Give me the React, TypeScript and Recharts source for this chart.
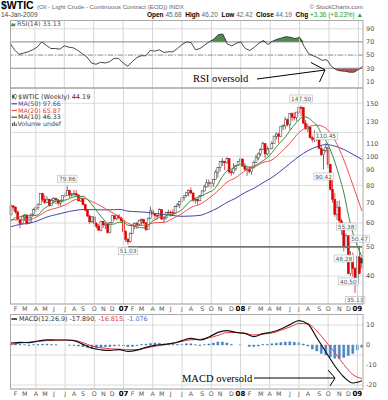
import React from "react";
import {
  ComposedChart,
  Bar,
  Line,
  Area,
  XAxis,
  YAxis,
  CartesianGrid,
  ReferenceLine,
  ReferenceDot,
} from "recharts";

// weekly candles, week 0 = 16-Jan-2006 ... week 156 = 12-Jan-2009
const opens = [
  63.9, 68.4, 67.8, 65.3, 61.8, 59.9, 62.9, 63.7, 60.0, 62.8,
  64.3, 66.6, 67.4, 69.3, 75.2, 71.9, 70.2, 72.0, 68.5, 71.4,
  72.3, 71.6, 69.9, 70.9, 73.9, 74.1, 77.0, 74.4, 74.5, 75.1,
  74.4, 71.1, 72.5, 69.2, 66.2, 63.3, 60.6, 62.9, 59.8, 58.6,
  56.8, 60.8, 59.1, 59.6, 55.8, 60.2, 63.4, 62.0, 63.4, 62.4,
  61.1, 56.3, 53.0, 52.0, 55.4, 59.0, 59.9, 59.4, 61.1, 61.6,
  60.1, 57.1, 62.3, 65.9, 64.3, 63.6, 63.4, 66.5, 61.9, 62.4,
  64.9, 65.2, 65.1, 64.8, 68.0, 69.0, 70.7, 72.8, 73.9, 75.6,
  77.0, 75.5, 71.5, 72.0, 71.1, 74.0, 76.7, 79.1, 81.6, 81.7,
  81.2, 83.7, 88.6, 91.9, 95.9, 96.3, 95.1, 98.2, 88.7, 88.3,
  91.3, 93.3, 96.0, 97.9, 92.7, 90.6, 90.7, 89.0, 91.8, 95.5,
  98.8, 101.8, 105.2, 110.2, 101.8, 105.6, 106.2, 110.1, 116.7, 118.5,
  116.3, 126.0, 126.3, 132.2, 127.4, 138.5, 134.9, 134.6, 140.2, 145.3,
  145.1, 128.9, 123.3, 125.1, 115.2, 113.8, 114.6, 115.5, 106.2, 101.2,
  104.6, 106.9, 93.9, 77.7, 71.9, 64.2, 67.8, 61.0, 57.0, 49.9,
  54.4, 40.8, 46.3, 42.4, 37.7, 46.3, 45.68,
];
const highs = [
  69.2, 68.9, 68.1, 66.0, 62.0, 63.4, 64.2, 64.0, 63.0, 64.4,
  67.1, 68.4, 69.6, 75.4, 75.6, 74.5, 73.7, 72.3, 72.3, 73.1,
  73.0, 72.2, 71.5, 74.2, 75.8, 79.86, 77.4, 75.6, 77.1, 77.3,
  74.7, 73.0, 72.8, 69.5, 66.4, 63.9, 63.2, 63.2, 60.4, 59.5,
  61.0, 61.1, 60.2, 59.9, 60.5, 64.0, 63.8, 63.9, 64.2, 62.9,
  61.3, 57.0, 53.5, 55.8, 59.2, 60.3, 60.6, 61.6, 62.2, 62.0,
  60.4, 62.6, 68.1, 66.7, 64.9, 64.0, 67.1, 66.6, 62.9, 65.1,
  66.5, 66.0, 66.6, 68.6, 69.9, 70.9, 73.0, 74.2, 75.9, 77.6,
  78.8, 75.8, 72.9, 72.4, 74.2, 77.1, 80.4, 83.9, 83.8, 82.0,
  84.1, 90.1, 92.2, 96.2, 98.6, 96.4, 99.3, 98.5, 90.4, 94.9,
  93.8, 96.5, 100.0, 98.4, 95.0, 92.2, 93.0, 92.3, 96.7, 101.3,
  103.0, 106.5, 111.8, 110.6, 108.0, 106.8, 112.2, 117.0, 119.9, 119.9,
  126.2, 127.8, 135.1, 133.7, 139.1, 139.9, 139.9, 140.4, 145.9, 147.5,
  145.5, 131.9, 127.8, 125.5, 117.1, 121.9, 120.4, 116.2, 108.9, 105.6,
  110.45, 107.0, 94.4, 83.5, 75.4, 71.0, 71.4, 62.0, 58.6, 55.38,
  54.7, 48.4, 47.9, 42.9, 46.8, 50.47, 46.2,
];
const lows = [
  63.6, 66.0, 64.4, 61.5, 57.6, 59.5, 61.0, 59.1, 59.7, 60.5,
  63.5, 65.3, 66.3, 69.0, 70.6, 69.4, 69.8, 68.0, 68.2, 69.7,
  69.3, 68.5, 68.1, 70.4, 73.5, 73.9, 72.7, 73.3, 74.0, 73.6,
  70.7, 70.5, 68.7, 65.7, 62.8, 59.6, 60.0, 58.8, 57.5, 56.6,
  56.3, 57.8, 57.3, 55.3, 55.4, 59.9, 61.3, 61.2, 61.6, 60.5,
  55.1, 51.9, 51.03, 51.6, 55.1, 57.3, 57.3, 58.6, 59.0, 59.5,
  56.5, 56.9, 62.0, 63.5, 61.9, 61.6, 63.1, 61.3, 60.2, 61.7,
  64.4, 63.0, 63.9, 64.5, 67.8, 67.2, 70.4, 71.2, 73.3, 73.6,
  74.8, 70.6, 69.6, 69.0, 70.9, 73.8, 76.4, 78.7, 79.0, 78.2,
  79.0, 83.4, 84.9, 88.9, 93.0, 90.0, 94.6, 87.4, 86.2, 87.2,
  89.4, 92.9, 95.6, 92.5, 89.4, 86.1, 87.5, 86.8, 91.0, 95.1,
  97.1, 100.2, 104.8, 98.7, 100.5, 99.6, 105.6, 109.8, 113.6, 110.6,
  115.9, 122.0, 123.0, 125.6, 122.3, 131.1, 131.6, 131.0, 138.1, 136.0,
  128.2, 122.8, 120.5, 114.6, 111.3, 111.4, 112.1, 105.5, 100.2, 90.42,
  103.0, 91.5, 77.1, 70.0, 63.0, 61.3, 59.9, 54.7, 48.28, 49.4,
  40.5, 40.1, 39.9, 35.13, 37.3, 40.6, 42.42,
];
const closes = [
  68.35, 67.76, 65.37, 61.84, 59.88, 62.91, 63.67, 60.0, 62.81, 64.26,
  66.63, 67.39, 69.32, 75.17, 71.88, 70.19, 72.04, 68.53, 71.37, 72.33,
  71.63, 69.89, 70.87, 73.93, 74.09, 77.03, 74.43, 74.54, 75.1, 74.35,
  71.14, 72.51, 69.2, 66.25, 63.33, 60.55, 62.91, 59.76, 58.57, 56.82,
  60.75, 59.14, 59.58, 55.81, 60.16, 63.43, 62.03, 63.43, 62.41, 61.05,
  56.31, 52.99, 51.99, 55.42, 59.02, 59.89, 59.39, 61.14, 61.64, 60.05,
  57.11, 62.28, 65.87, 64.28, 63.63, 63.38, 66.46, 61.93, 62.37, 64.94,
  65.2, 65.08, 64.76, 68.0, 68.96, 70.68, 72.81, 73.93, 75.57, 77.02,
  75.48, 71.47, 71.98, 71.09, 74.04, 76.7, 79.1, 81.62, 81.66, 81.22,
  83.69, 88.6, 91.86, 95.93, 96.32, 95.1, 98.18, 88.71, 88.28, 91.27,
  93.31, 96.0, 97.91, 92.69, 90.57, 90.71, 88.96, 91.77, 95.5, 98.81,
  101.84, 105.15, 110.21, 101.84, 105.62, 106.23, 110.14, 116.69, 118.52, 116.32,
  125.96, 126.29, 132.19, 127.35, 138.54, 134.86, 134.62, 140.21, 145.29, 145.08,
  128.88, 123.26, 125.1, 115.2, 113.77, 114.59, 115.46, 106.23, 101.18, 104.55,
  106.89, 93.88, 77.7, 71.85, 64.15, 67.81, 61.04, 57.04, 49.93, 54.43,
  40.81, 46.28, 42.36, 37.71, 46.34, 40.83, 44.19,
];

// indicator lines: every 2nd week / every 4th week
const ma10 = [
  60.76, 62.59, 62.89, 63.9, 63.65, 63.51, 63.87, 66.4, 67.97, 69.68,
  70.99, 71.39, 71.49, 72.41, 73.38, 73.54, 73.63, 71.79, 68.99, 65.86,
  63.07, 60.77, 59.41, 59.61, 60.36, 60.34, 58.96, 58.81, 58.19, 57.88,
  57.86, 60.18, 61.53, 62.58, 62.74, 64.03, 64.2, 65.11, 66.47, 68.99,
  71.23, 72.59, 73.41, 74.64, 76.02, 77.26, 80.96, 85.67, 89.42, 90.79,
  92.76, 94.1, 93.2, 91.84, 92.87, 94.48, 96.62, 99.04, 102.71, 107.51,
  111.67, 115.98, 121.82, 127.13, 132.16, 135.33, 134.32, 130.63, 126.68, 118.88,
  112.62, 104.95, 95.65, 85.53, 75.48, 63.86, 55.57, 50.38, 46.33,
];
const ma20 = [
  61.57, 61.44, 61.5, 63.23, 65.93, 67.25, 68.95, 71.53, 72.51, 70.7,
  68.3, 65.6, 63.11, 59.86, 58.9, 59.1, 60.17, 60.31, 62.19, 64.53,
  67.63, 69.26, 72.5, 76.77, 82.03, 85.01, 89.44, 91.83, 95.36, 97.28,
  103.07, 110.43, 119.83, 125.15, 126.91, 123.98, 113.14, 97.18, 80.26, 65.87,
];
const ma50 = [
  58.33, 59.4, 59.93, 61.12, 62.89, 64.0, 65.08, 66.0, 66.53, 66.49,
  66.37, 66.39, 66.59, 65.72, 65.43, 65.16, 64.6, 64.04, 63.55, 63.17,
  63.31, 63.65, 65.2, 67.38, 70.26, 72.63, 75.78, 78.28, 81.69, 85.02,
  89.48, 94.63, 99.87, 104.4, 107.56, 109.37, 108.07, 105.38, 101.49, 97.66,
];
const rsi = [
  68, 58, 51, 53, 55, 58, 62, 70, 65, 60,
  60, 59, 64, 62, 61, 57, 52, 47, 38, 36,
  39, 38, 40, 45, 45, 38, 33, 40, 46, 49,
  49, 57, 56, 58, 54, 55, 55, 60, 66, 70,
  69, 58, 60, 65, 70, 74, 81, 82, 67, 64,
  68, 70, 60, 57, 62, 68, 72, 66, 71, 74,
  76, 78, 77, 75, 77, 63, 52, 49, 46, 42,
  43, 33, 28, 26, 25.5, 24, 24, 28, 33.13,
];
const macd = [
  1.0, 1.3, 1.2, 2.0, 2.6, 2.5, 2.5, 2.2, 0.3, -1.6,
  -2.4, -2.7, -2.3, -3.2, -2.6, -1.2, -0.2, 0.3, 0.9, 2.2,
  3.3, 2.5, 4.0, 6.3, 7.2, 6.3, 5.8, 4.2, 5.7, 6.5,
  8.0, 10.2, 12.2, 10.5, 3.5, -3.5, -10.5, -16.0, -19.0, -17.89,
];
const signal = [
  0.3, 1.0, 1.4, 1.8, 2.2, 2.4, 2.5, 2.3, 1.2, -0.5,
  -1.4, -1.9, -2.1, -2.3, -2.3, -1.5, -0.6, 0.1, 0.8, 1.8,
  2.6, 2.8, 3.6, 4.8, 6.2, 6.3, 5.8, 5.0, 5.5, 6.0,
  7.4, 9.0, 10.8, 10.5, 7.0, 1.6, -3.8, -9.8, -14.8, -16.815,
];
const hist = [
  0.7, 0.5, 0.3, 0.1, -0.2, 0.1, 0.2, 0.4, 0.4, 0.2,
  0.1, 0.0, 0.0, -0.1, -0.2, -0.5, -0.9, -1.3, -1.7, -1.6,
  -1.1, -0.9, -0.8, -0.5, -0.2, -0.5, -0.9, -0.7, -0.3, 0.2,
  0.4, 0.8, 1.0, 0.9, 0.5, 0.3, 0.2, 0.3, 0.4, 0.6,
  0.6, 0.1, -0.2, 0.1, 0.5, 1.0, 1.5, 1.5, 1.0, 0.2,
  0.0, 0.1, 0.0, -0.7, -0.8, -0.5, 0.2, 0.3, 0.6, 0.9,
  1.2, 1.5, 1.6, 1.4, 1.2, 0.5, -0.5, -2.0, -3.0, -4.2,
  -5.0, -6.0, -6.6, -6.8, -6.2, -5.2, -4.2, -2.5, -1.08,
];

// axis ticks
const monthTicks = [
  2, 6, 11, 15, 19, 24, 28, 32, 37, 41, 45, 50,
  54, 58, 63, 67, 71, 76, 80, 85, 89, 93, 98, 102,
  106, 111, 115, 119, 124, 128, 132, 137, 141, 146, 150, 154,
];
const monthLabels = [
  "F", "M", "A", "M", "J", "J", "A", "S", "O", "N", "D", "07",
  "F", "M", "A", "M", "J", "J", "A", "S", "O", "N", "D", "08",
  "F", "M", "A", "M", "J", "J", "A", "S", "O", "N", "D", "09",
];
const quarterTicks = [11, 24, 37, 50, 63, 76, 89, 102, 115, 128, 141, 154];
const priceTicks = [40, 50, 60, 70, 80, 90, 100, 110, 120, 130, 140, 150];
const rsiTicks = [10, 30, 50, 70, 90];
const macdTicks = [-20, -15, -10, -5, 0, 5, 10];

// high / low tags
const tagIdx = [25, 52, 129, 140, 139, 149, 148, 155, 150, 153];
const tagVals = [79.86, 51.03, 147.5, 110.45, 90.42, 55.38, 48.28, 50.47, 40.5, 35.13];
const tagBelow = [false, true, false, false, true, false, true, false, true, true];

const rows = closes.map((c, i) => ({
  i,
  o: opens[i],
  h: highs[i],
  l: lows[i],
  c,
  prev: i > 0 ? closes[i - 1] : opens[0],
  range: [lows[i], highs[i]],
  ma10: i % 2 === 0 ? ma10[i / 2] : null,
  ma20: i % 4 === 0 ? ma20[i / 4] : null,
  ma50: i % 4 === 0 ? ma50[i / 4] : null,
  rsi: i % 2 === 0 ? rsi[i / 2] : null,
  hist: i % 2 === 0 ? hist[i / 2] : null,
  macd: i % 4 === 0 ? macd[i / 4] : null,
  signal: i % 4 === 0 ? signal[i / 4] : null,
}));

const FONT = "'DejaVu Sans', sans-serif";
const axisTick = { fontSize: 6.5, fill: "#555", fontFamily: FONT };

const Candle = (props: any) => {
  const { x, y, width, height, payload } = props;
  if (!payload || x == null || y == null) return null;
  const { o, h, l, c, prev } = payload;
  const top = Math.min(y, y + height);
  const span = Math.abs(height);
  const k = Math.log(h) - Math.log(l);
  const yOf = (v: number) => top + (k > 0 ? ((Math.log(h) - Math.log(v)) / k) * span : 0);
  const cx = x + width / 2;
  const color = c < prev ? "#e00000" : "#333";
  const filled = c < o;
  const y1 = Math.min(yOf(o), yOf(c));
  const bh = Math.max(0.8, Math.abs(yOf(o) - yOf(c)));
  return (
    <g>
      <line x1={cx} x2={cx} y1={top} y2={top + span} stroke={color} strokeWidth={0.7} />
      <rect x={cx - 1} y={y1} width={2} height={bh} fill={filled ? color : "#fff"} stroke={color} strokeWidth={0.5} />
    </g>
  );
};

const MonthTick = (props: any) => {
  const { x, y, payload } = props;
  const k = monthTicks.indexOf(payload.value);
  const label = monthLabels[k] ?? "";
  const isYear = /\d/.test(label);
  return (
    <text
      x={x}
      y={y + 6.5}
      textAnchor="middle"
      fontSize={isYear ? 7 : 6.3}
      fontWeight={isYear ? "bold" : "normal"}
      fill={isYear ? "#000" : "#555"}
      fontFamily={FONT}
    >
      {label}
    </text>
  );
};

const PriceTag = ({ cx, cy, value, below }: any) => {
  if (cx == null || cy == null) return null;
  const text = value.toFixed(2);
  const w = text.length * 3.3 + 3;
  const by = below ? cy + 3.5 : cy - 10.5;
  return (
    <g>
      <rect x={cx - w / 2} y={by} width={w} height={7} fill="#fff" stroke="#b5b5b5" strokeWidth={0.6} />
      <text x={cx} y={by + 5.6} textAnchor="middle" fontSize={5.8} fill="#555" fontFamily={FONT}>
        {text}
      </text>
    </g>
  );
};

const quarterLines = () =>
  quarterTicks.map((q) => <ReferenceLine key={"q" + q} x={q} stroke="#d6d6d6" strokeWidth={1} />);

const margin = { top: 0, right: 0, bottom: 0, left: 10 };

export default function App() {
  return (
    <div style={{ position: "absolute", left: 0, top: 0, width: 388, height: 400, background: "#fff", fontFamily: FONT }}>
      {/* RSI panel */}
      <div style={{ position: "absolute", left: 0, top: 20 }}>
        <ComposedChart width={388} height={68} data={rows} margin={margin}>
          <CartesianGrid vertical={false} stroke="#dcdcdc" />
          {quarterLines()}
          <XAxis dataKey="i" hide />
          <YAxis
            orientation="right"
            width={25}
            domain={[0, 103.3]}
            allowDataOverflow
            ticks={rsiTicks}
            tick={axisTick}
            tickLine={false}
            axisLine={false}
            tickSize={0}
            tickMargin={3}
          />
          <ReferenceLine y={70} stroke="#8a8a8a" strokeWidth={1} />
          <ReferenceLine y={30} stroke="#8a8a8a" strokeWidth={1} />
          <ReferenceLine y={50} stroke="#9c9c9c" strokeWidth={1} strokeDasharray="5 2 1 2" />
          <Area
            dataKey={(d: any) => (d.rsi == null ? null : [70, Math.max(70, d.rsi)])}
            type="linear"
            connectNulls
            fill="#4f8a4f"
            fillOpacity={1}
            stroke="none"
            isAnimationActive={false}
          />
          <Area
            dataKey={(d: any) => (d.rsi == null ? null : [Math.min(30, d.rsi), 30])}
            type="linear"
            connectNulls
            fill="#cc4a4a"
            fillOpacity={1}
            stroke="none"
            isAnimationActive={false}
          />
          <Line dataKey="rsi" type="linear" connectNulls stroke="#333" strokeWidth={0.9} dot={false} isAnimationActive={false} />
        </ComposedChart>
      </div>

      {/* price panel */}
      <div style={{ position: "absolute", left: 0, top: 88 }}>
        <ComposedChart width={388} height={226} data={rows} margin={margin} barCategoryGap={0}>
          <CartesianGrid vertical={false} stroke="#dcdcdc" />
          {quarterLines()}
          <XAxis
            dataKey="i"
            ticks={monthTicks}
            interval={0}
            tick={<MonthTick />}
            tickLine={false}
            axisLine={false}
            tickSize={0}
            tickMargin={0}
            height={10}
          />
          <YAxis
            orientation="right"
            width={25}
            scale="log"
            domain={[32.3, 168.6]}
            allowDataOverflow
            ticks={priceTicks}
            tick={axisTick}
            tickLine={false}
            axisLine={false}
            tickSize={0}
            tickMargin={3}
          />
          <ReferenceLine
            segment={[
              { x: 52, y: 50 },
              { x: 156, y: 50 },
            ]}
            stroke="#777"
            strokeWidth={1.8}
          />
          <Line dataKey="ma50" type="monotone" connectNulls stroke="#4646a8" strokeWidth={1} dot={false} isAnimationActive={false} />
          <Line dataKey="ma20" type="monotone" connectNulls stroke="#f05050" strokeWidth={1} dot={false} isAnimationActive={false} />
          <Line dataKey="ma10" type="monotone" connectNulls stroke="#3a8a3a" strokeWidth={1} dot={false} isAnimationActive={false} />
          <Bar dataKey="range" shape={<Candle />} isAnimationActive={false} />
          {tagIdx.map((t, k) => (
            <ReferenceDot
              key={"tag" + k}
              x={t}
              y={tagVals[k]}
              r={0}
              ifOverflow="visible"
              shape={(p: any) => <PriceTag cx={p.cx} cy={p.cy} value={tagVals[k]} below={tagBelow[k]} />}
            />
          ))}
        </ComposedChart>
      </div>

      {/* MACD panel */}
      <div style={{ position: "absolute", left: 0, top: 314 }}>
        <ComposedChart width={388} height={86} data={rows} margin={margin}>
          <CartesianGrid vertical={false} stroke="#dcdcdc" />
          {quarterLines()}
          <XAxis
            dataKey="i"
            ticks={monthTicks}
            interval={0}
            tick={<MonthTick />}
            tickLine={false}
            axisLine={false}
            tickSize={0}
            tickMargin={0}
            height={11}
          />
          <YAxis
            orientation="right"
            width={25}
            domain={[-22, 15.5]}
            allowDataOverflow
            ticks={macdTicks}
            tick={axisTick}
            tickLine={false}
            axisLine={false}
            tickSize={0}
            tickMargin={3}
          />
          <Bar dataKey="hist" barSize={4} fill="#4a8fcf" stroke="#2a5f98" strokeWidth={0.4} isAnimationActive={false} />
          <Line dataKey="signal" type="monotone" connectNulls stroke="#ee3a3a" strokeWidth={1} dot={false} isAnimationActive={false} />
          <Line dataKey="macd" type="monotone" connectNulls stroke="#111" strokeWidth={1.2} dot={false} isAnimationActive={false} />
        </ComposedChart>
      </div>

      {/* header, legends, annotations */}
      <svg width={388} height={400} style={{ position: "absolute", left: 0, top: 0, pointerEvents: "none" }}>
        <rect x={10.5} y={20.5} width={352.5} height={67.5} fill="none" stroke="#aaa" />
        <rect x={10.5} y={88} width={352.5} height={216} fill="none" stroke="#aaa" />
        <rect x={10.5} y={314.5} width={352.5} height={74.5} fill="none" stroke="#aaa" />

        <text x={1} y={9} fontFamily="'Liberation Sans', Arial" fontWeight="bold" fontSize={10.5} fill="#000">
          $WTIC
        </text>
        <text x={37} y={8.5} fontFamily="'Liberation Sans', Arial" fontSize={6.2} fill="#666">
          (Oil - Light Crude - Continuous Contract (EOD)) INDX
        </text>
        <text x={363} y={8.5} textAnchor="end" fontFamily="'Liberation Sans', Arial" fontSize={6.2} fill="#666">
          © StockCharts.com
        </text>
        <text x={1} y={17} fontFamily="'Liberation Sans', Arial" fontSize={6.5} fill="#444">
          14-Jan-2009
        </text>
        <text x={363} y={17} textAnchor="end" fontFamily="'Liberation Sans', Arial" fontSize={6.5} fill="#666" style={{ whiteSpace: "pre" }}>
          <tspan fontWeight="bold" fill="#000">Open</tspan>
          <tspan>{" 45.68  "}</tspan>
          <tspan fontWeight="bold" fill="#000">High</tspan>
          <tspan>{" 46.20  "}</tspan>
          <tspan fontWeight="bold" fill="#000">Low</tspan>
          <tspan>{" 42.42  "}</tspan>
          <tspan fontWeight="bold" fill="#000">Close</tspan>
          <tspan>{" 44.19  "}</tspan>
          <tspan fontWeight="bold" fill="#000">Chg</tspan>
          <tspan fill="#2a9a2a">{" +3.36 (+8.23%) ▲"}</tspan>
        </text>

        {/* RSI legend */}
        <path d="M11 26 L12.5 23 L14 25 L15 23.5 L15 26 Z" fill="#4f8a4f" stroke="#2f5f2f" strokeWidth={0.4} />
        <text x={17} y={26} fontSize={6.4} fill="#555" fontFamily={FONT}>
          RSI(14) 33.13
        </text>

        {/* price legend */}
        <line x1={13} x2={13} y1={94} y2={99.5} stroke="#333" strokeWidth={0.6} />
        <rect x={12.2} y={95.3} width={1.6} height={2.8} fill="#333" />
        <line x1={15.5} x2={15.5} y1={94} y2={99.5} stroke="#333" strokeWidth={0.6} />
        <rect x={14.7} y={94.8} width={1.6} height={3.2} fill="#fff" stroke="#333" strokeWidth={0.4} />
        <text x={18} y={99} fontSize={6.5} fill="#333" fontFamily={FONT}>
          $WTIC (Weekly) 44.19
        </text>
        <line x1={11.5} x2={17} y1={103.8} y2={103.8} stroke="#4646a8" strokeWidth={1.2} />
        <text x={18} y={106} fontSize={6.3} fill="#4646a8" fontFamily={FONT}>
          MA(50) 97.66
        </text>
        <line x1={11.5} x2={17} y1={110.5} y2={110.5} stroke="#f05050" strokeWidth={1.2} />
        <text x={18} y={112.7} fontSize={6.3} fill="#e03a3a" fontFamily={FONT}>
          MA(20) 65.87
        </text>
        <line x1={11.5} x2={17} y1={117.2} y2={117.2} stroke="#2a5a2a" strokeWidth={1.2} />
        <text x={18} y={119.4} fontSize={6.3} fill="#333" fontFamily={FONT}>
          MA(10) 46.33
        </text>
        <rect x={12} y={123} width={1.2} height={3} fill="#555" />
        <rect x={13.8} y={121.8} width={1.2} height={4.2} fill="#555" />
        <rect x={15.6} y={123.6} width={1.2} height={2.4} fill="#555" />
        <text x={17.5} y={126.1} fontSize={6.3} fill="#444" fontFamily={FONT}>
          Volume undef
        </text>

        {/* MACD legend */}
        <line x1={11.5} x2={17} y1={319} y2={319} stroke="#111" strokeWidth={1.4} />
        <text x={19} y={321.2} fontSize={6.4} fill="#333" fontFamily={FONT} style={{ whiteSpace: "pre" }}>
          <tspan>MACD(12,26,9) -17.890</tspan>
          <tspan fill="#e03a3a">{", -16.815,"}</tspan>
          <tspan fill="#3a7ac0">{" -1.076"}</tspan>
        </text>

        {/* annotations */}
        <text x={193} y={81.5} fontFamily="'Liberation Serif', 'Times New Roman', serif" fontSize={10.5} fill="#000">
          RSI oversold
        </text>
        <line x1={257} y1={79} x2={325} y2={70} stroke="#000" strokeWidth={1} />
        <line x1={311} y1={62.5} x2={325} y2={70} stroke="#000" strokeWidth={1} />
        <line x1={325} y1={70} x2={319.5} y2={82} stroke="#000" strokeWidth={1} />

        <text x={182} y={382} fontFamily="'Liberation Serif', 'Times New Roman', serif" fontSize={10.5} fill="#000">
          MACD oversold
        </text>
        <line x1={254} y1={378} x2={335} y2={378} stroke="#000" strokeWidth={1} />
        <line x1={328} y1={370} x2={335} y2={378} stroke="#000" strokeWidth={1} />
        <line x1={335} y1={378} x2={330} y2={386} stroke="#000" strokeWidth={1} />
      </svg>
    </div>
  );
}
